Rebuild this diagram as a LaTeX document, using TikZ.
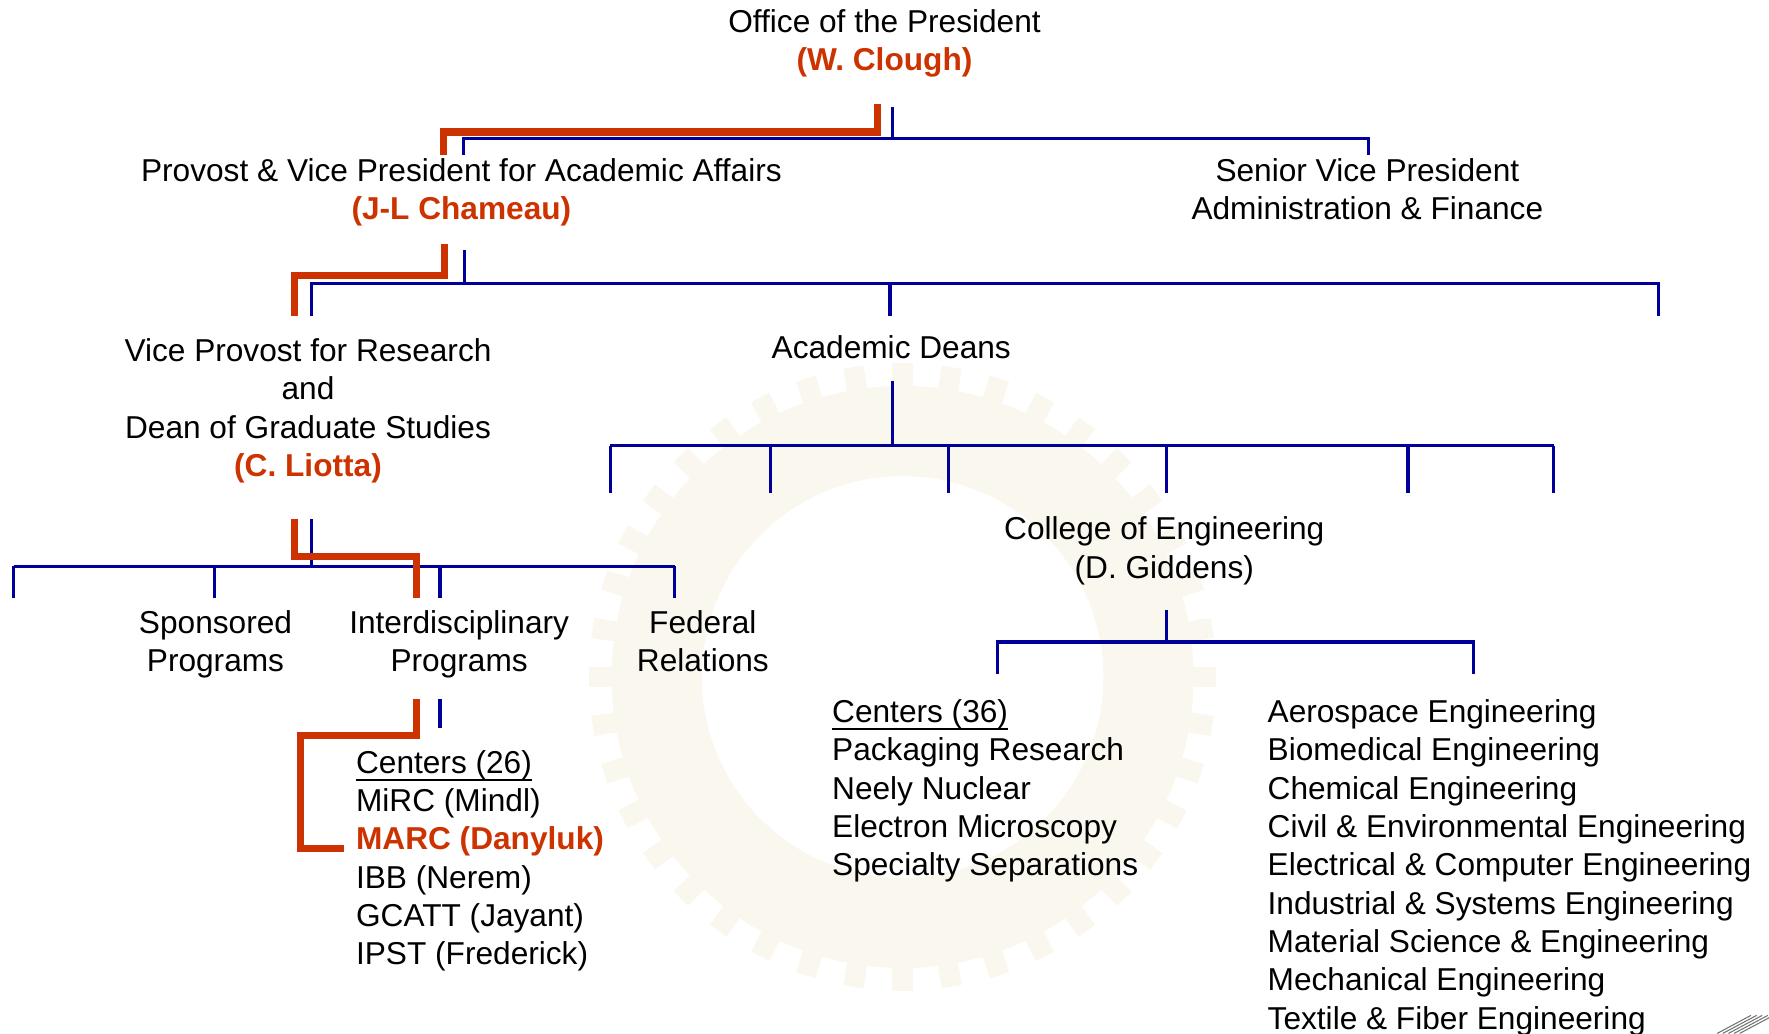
\documentclass[tikz,border=0pt]{standalone}
\usepackage{fontspec}
\setmainfont{Liberation Sans}
\usepackage{tikz}
\usetikzlibrary{positioning}
\usepackage{xcolor}
\definecolor{orgblue}{RGB}{0,0,153}
\definecolor{keyred}{RGB}{204,51,0}
\definecolor{sealtan}{RGB}{249,247,238}
\newcommand{\who}[1]{\textcolor{keyred}{\textbf{#1}}}
\newcommand{\listhead}[1]{\setbox0\hbox{#1}\rlap{\rule[-2.2pt]{\wd0}{0.6pt}}\box0}
\tikzset{
  orgline/.style={draw=orgblue,line width=0.95pt},
  keyline/.style={draw=keyred,line width=2pt},
  unitbox/.style={font=\fontsize{9}{10.9}\selectfont,inner sep=0pt,align=center,anchor=north},
  listbox/.style={font=\fontsize{9}{10.9}\selectfont,inner sep=0pt,align=left,anchor=north west}
}

\begin{document}
\begin{tikzpicture}[x=0.1128mm,y=-0.1128mm]
\useasboundingbox (0,0) rectangle (1568,916);
% faint seal behind the chart
\fill[sealtan,even odd rule] (800,600) circle (258) (800,600) circle (178);
\foreach \a in {0,9,...,351}
  \fill[sealtan,rotate around={\a:(800,600)}] (791,322) rectangle (809,346);
\foreach \i in {0,...,4}
  \draw[black!55,line width=0.3pt] (1522+5*\i,916) -- ++(30,-16);

% units
\node[unitbox] (pres) at (784,7.5) {Office of the President\\ \who{(W. Clough)}};
\node[unitbox] (provost) at (409,139.5) {Provost \& Vice President for Academic Affairs\\ \who{(J-L Chameau)}};
\node[unitbox] (svp) at (1212,139.5) {Senior Vice President\\ Administration \& Finance};
\node[unitbox] (vpr) at (273,299.5) {Vice Provost for Research\\ and\\ Dean of Graduate Studies\\ \who{(C. Liotta)}};
\node[unitbox] (deans) at (790,296.5) {Academic Deans};
\node[unitbox] (coe) at (1032,457.5) {College of Engineering\\ (D. Giddens)};
\node[unitbox] (spons) at (191,540.5) {Sponsored\\ Programs};
\node[unitbox] (inter) at (407,540.5) {Interdisciplinary\\ Programs};
\node[unitbox] (fed) at (623,540.5) {Federal\\ Relations};
\node[listbox] (ctrA) at (315,664.5) {\listhead{Centers (26)}\\ MiRC (Mindl)\\ \who{MARC (Danyluk)}\\
  IBB (Nerem)\\ GCATT (Jayant)\\ IPST (Frederick)};
\node[listbox] (ctrB) at (737,619.5) {\listhead{Centers (36)}\\ Packaging Research\\ Neely Nuclear\\
  Electron Microscopy\\ Specialty Separations};
\node[listbox] (schools) at (1123,619.5) {Aerospace Engineering\\ Biomedical Engineering\\ Chemical Engineering\\
  Civil \& Environmental Engineering\\ Electrical \& Computer Engineering\\ Industrial \& Systems Engineering\\
  Material Science \& Engineering\\ Mechanical Engineering\\ Textile \& Fiber Engineering};

% junctions
\coordinate (presS) at (791,95);
\coordinate (presJ) at (791,123);
\coordinate (provN) at (411,137);
\coordinate (svpN) at (1213,137);
\coordinate (provS) at (412,222);
\coordinate (provJ) at (412,251);
\coordinate (vprN) at (276,280);
\coordinate (deansN) at (789,280);
\coordinate (farN) at (1470,280);
\coordinate (deansS) at (791,338);
\coordinate (deansJ) at (791,395);
\coordinate (coeS) at (1034,541);
\coordinate (coeJ) at (1034,569);
\coordinate (ctrBN) at (884,597);
\coordinate (schoolsN) at (1306,597);
\coordinate (vprS) at (276,460);
\coordinate (vprJ) at (276,502);
\coordinate (interS) at (390,620);
\coordinate (interJ) at (390,645);

% blue tree
\draw[orgline] (presS) -- (presJ);
\draw[orgline] (provN) |- (presJ) -| (svpN);
\draw[orgline] (provS) -- (provJ);
\draw[orgline] (vprN) |- (provJ) -| (farN);
\draw[orgline] (deansN) -- (deansN |- provJ);
\draw[orgline] (deansS) -- (deansJ);
\draw[orgline] (541,395) -- (1377,395);
\foreach \x in {541,683,841,1034,1248,1377}
  \draw[orgline] (\x,395) -- (\x,437);
\draw[orgline] (coeS) -- (coeJ);
\draw[orgline] (ctrBN) |- (coeJ) -| (schoolsN);
\draw[orgline] (vprS) -- (vprJ);
\draw[orgline] (12,502) -- (598,502);
\foreach \x in {12,190,390,598}
  \draw[orgline] (\x,502) -- (\x,530);
\draw[orgline] (interS) -- (interJ);

% red reporting line
\draw[keyline] (778,92) |- (393,117) -- (393,137);
\draw[keyline] (394,216) |- (261,244) -- (261,280);
\draw[keyline] (261,460) |- (369,493) -- (369,530);
\draw[keyline] (369,620) |- (266,652) |- (305,752);
\end{tikzpicture}
\end{document}
